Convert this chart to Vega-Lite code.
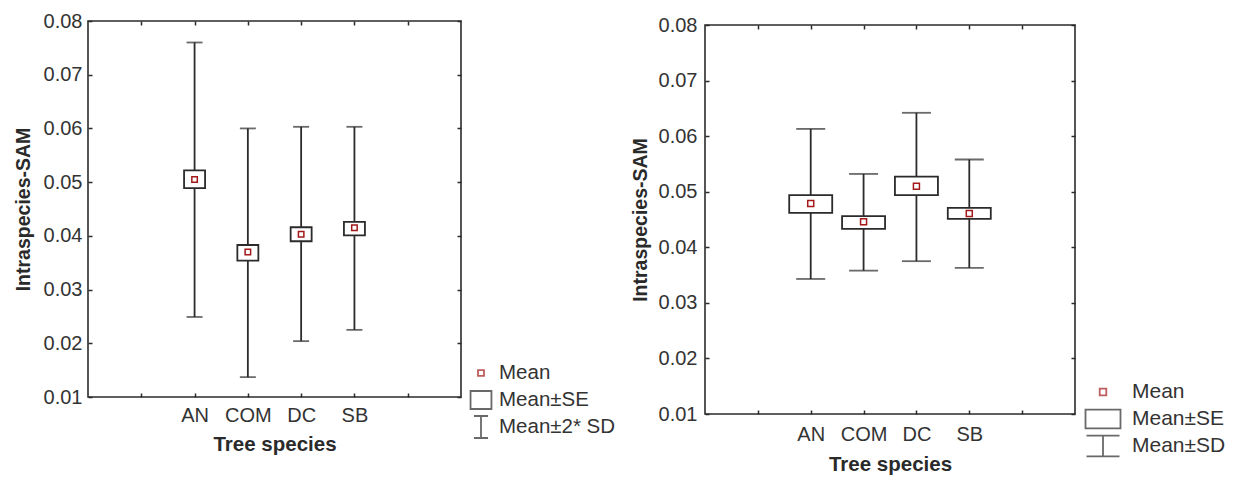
{
  "$schema": "https://vega.github.io/schema/vega-lite/v6.json",
  "padding": {"left": 12, "top": 10, "right": 0, "bottom": 0},
  "background": "white",
  "config": {
    "font": "Liberation Sans",
    "view": {"stroke": "#2b2b2b", "strokeWidth": 1.6},
    "axis": {
      "labelFont": "Liberation Sans", "labelFontSize": 20, "labelColor": "#333333",
      "titleFont": "Liberation Sans", "titleColor": "#2a2a2a", "titleFontWeight": "bold",
      "domain": false, "grid": false, "tickColor": "#2b2b2b", "tickWidth": 1.5, "tickSize": -4
    },
    "legend": {"labelFont": "Liberation Sans", "labelColor": "#333333"}
  },
  "datasets": {
    "left": [
      {"species": "AN", "mean": 0.0505, "seLo": 0.0489, "seHi": 0.0522, "sdLo": 0.0249, "sdHi": 0.0760},
      {"species": "COM", "mean": 0.0370, "seLo": 0.0354, "seHi": 0.0383, "sdLo": 0.0137, "sdHi": 0.0600},
      {"species": "DC", "mean": 0.0403, "seLo": 0.0390, "seHi": 0.0416, "sdLo": 0.0204, "sdHi": 0.0603},
      {"species": "SB", "mean": 0.0415, "seLo": 0.0401, "seHi": 0.0426, "sdLo": 0.0225, "sdHi": 0.0603}
    ],
    "right": [
      {"species": "AN", "mean": 0.0479, "seLo": 0.0462, "seHi": 0.0494, "sdLo": 0.0343, "sdHi": 0.0613},
      {"species": "COM", "mean": 0.0446, "seLo": 0.0433, "seHi": 0.0456, "sdLo": 0.0358, "sdHi": 0.0532},
      {"species": "DC", "mean": 0.0510, "seLo": 0.0494, "seHi": 0.0527, "sdLo": 0.0375, "sdHi": 0.0642},
      {"species": "SB", "mean": 0.0461, "seLo": 0.0451, "seHi": 0.0471, "sdLo": 0.0363, "sdHi": 0.0558}
    ],
    "legendLeft": [{"item": "Mean"}, {"item": "Mean±SE"}, {"item": "Mean±2* SD"}],
    "legendRight": [{"item": "Mean"}, {"item": "Mean±SE"}, {"item": "Mean±SD"}]
  },
  "resolve": {"scale": {"shape": "independent", "stroke": "independent"}},
  "spacing": 12,
  "hconcat": [
    {
      "width": 373, "height": 376,
      "data": {"name": "left"},
      "resolve": {"axis": {"x": "independent", "y": "independent"}},
      "layer": [
        {
          "mark": {"type": "rule", "color": "#2b2b2b", "strokeWidth": 1.8},
          "encoding": {
            "x": {"field": "species", "type": "nominal",
              "scale": {"type": "point", "domain": [" ", "AN", "COM", "DC", "SB", "  "], "padding": 1},
              "axis": {"orient": "bottom", "title": "Tree species", "labelAngle": 0, "labelPadding": 12, "titlePadding": 9, "titleFontSize": 20.5}},
            "y": {"field": "sdLo", "type": "quantitative",
              "scale": {"domain": [0.01, 0.08], "nice": false, "zero": false},
              "axis": {"orient": "left", "title": "Intraspecies-SAM", "values": [0.01, 0.02, 0.03, 0.04, 0.05, 0.06, 0.07, 0.08], "format": ".2f", "labelPadding": 10, "titlePadding": 10, "titleFontSize": 19.5}},
            "y2": {"field": "sdHi"}
          }
        },
        {
          "mark": {"type": "tick", "color": "#2b2b2b", "thickness": 1.8, "size": 16},
          "encoding": {
            "x": {"field": "species", "type": "nominal", "axis": {"orient": "top", "labels": false, "title": null}},
            "y": {"field": "sdLo", "type": "quantitative", "axis": {"orient": "right", "labels": false, "title": null, "values": [0.01, 0.02, 0.03, 0.04, 0.05, 0.06, 0.07, 0.08]}}
          }
        },
        {
          "mark": {"type": "tick", "color": "#2b2b2b", "thickness": 1.8, "size": 16},
          "encoding": {
            "x": {"field": "species", "type": "nominal", "axis": null},
            "y": {"field": "sdHi", "type": "quantitative", "axis": null}
          }
        },
        {
          "mark": {"type": "bar", "fill": "white", "stroke": "#2b2b2b", "strokeWidth": 1.8, "size": 21},
          "encoding": {
            "x": {"field": "species", "type": "nominal", "axis": null},
            "y": {"field": "seLo", "type": "quantitative", "axis": null},
            "y2": {"field": "seHi"}
          }
        },
        {
          "mark": {"type": "point", "shape": "square", "filled": false, "stroke": "#a31919", "strokeWidth": 1.5, "size": 30, "opacity": 1},
          "encoding": {
            "x": {"field": "species", "type": "nominal", "axis": null},
            "y": {"field": "mean", "type": "quantitative", "axis": null}
          }
        },
        {
          "data": {"name": "legendLeft"},
          "transform": [{"filter": "false"}],
          "mark": {"type": "point", "filled": false},
          "encoding": {
            "shape": {"field": "item", "type": "nominal",
              "scale": {"domain": ["Mean", "Mean±SE", "Mean±2* SD"], "range": ["M-1,-1M1,1M-0.27,-0.27L0.27,-0.27L0.27,0.27L-0.27,0.27Z", "M-1,-1M1,1M-0.95,-0.82L0.95,-0.82L0.95,0.82L-0.95,0.82Z", "M-1,-1M1,1M-0.64,-1L0.64,-1M0,-1L0,1M-0.64,1L0.64,1"]},
              "legend": {"title": null, "orient": "none", "legendX": 381, "legendY": 340, "symbolSize": 484, "labelFontSize": 20.5, "labelOffset": 6, "rowPadding": -5, "symbolStrokeWidth": 1.8}},
            "stroke": {"field": "item", "type": "nominal",
              "scale": {"domain": ["Mean", "Mean±SE", "Mean±2* SD"], "range": ["#a31919", "#2b2b2b", "#2b2b2b"]},
              "legend": {"title": null, "orient": "none", "legendX": 381, "legendY": 340, "symbolSize": 484, "labelFontSize": 20.5, "labelOffset": 6, "rowPadding": -5, "symbolStrokeWidth": 1.8}}
          }
        }
      ]
    },
    {
      "spacing": -8,
      "vconcat": [
        {
          "width": 370, "height": 1,
          "view": {"stroke": null},
          "data": {"values": []},
          "mark": {"type": "point"},
          "encoding": {}
        },
        {
          "width": 370, "height": 389,
          "data": {"name": "right"},
          "resolve": {"axis": {"x": "independent", "y": "independent"}},
          "layer": [
            {
              "mark": {"type": "rule", "color": "#2b2b2b", "strokeWidth": 1.8},
              "encoding": {
                "x": {"field": "species", "type": "nominal",
                  "scale": {"type": "point", "domain": [" ", "AN", "COM", "DC", "SB", "  "], "padding": 1},
                  "axis": {"orient": "bottom", "title": "Tree species", "labelAngle": 0, "labelPadding": 14, "titlePadding": 10, "titleFontSize": 20.5}},
                "y": {"field": "sdLo", "type": "quantitative",
                  "scale": {"domain": [0.01, 0.08], "nice": false, "zero": false},
                  "axis": {"orient": "left", "title": "Intraspecies-SAM", "values": [0.01, 0.02, 0.03, 0.04, 0.05, 0.06, 0.07, 0.08], "format": ".2f", "labelPadding": 12, "titlePadding": 8, "titleFontSize": 19.5}},
                "y2": {"field": "sdHi"}
              }
            },
            {
              "mark": {"type": "tick", "color": "#2b2b2b", "thickness": 1.8, "size": 29},
              "encoding": {
                "x": {"field": "species", "type": "nominal", "axis": {"orient": "top", "labels": false, "title": null}},
                "y": {"field": "sdLo", "type": "quantitative", "axis": {"orient": "right", "labels": false, "title": null, "values": [0.01, 0.02, 0.03, 0.04, 0.05, 0.06, 0.07, 0.08]}}
              }
            },
            {
              "mark": {"type": "tick", "color": "#2b2b2b", "thickness": 1.8, "size": 29},
              "encoding": {
                "x": {"field": "species", "type": "nominal", "axis": null},
                "y": {"field": "sdHi", "type": "quantitative", "axis": null}
              }
            },
            {
              "mark": {"type": "bar", "fill": "white", "stroke": "#2b2b2b", "strokeWidth": 1.8, "size": 43},
              "encoding": {
                "x": {"field": "species", "type": "nominal", "axis": null},
                "y": {"field": "seLo", "type": "quantitative", "axis": null},
                "y2": {"field": "seHi"}
              }
            },
            {
              "mark": {"type": "point", "shape": "square", "filled": false, "stroke": "#a31919", "strokeWidth": 1.5, "size": 36, "opacity": 1},
              "encoding": {
                "x": {"field": "species", "type": "nominal", "axis": null},
                "y": {"field": "mean", "type": "quantitative", "axis": null}
              }
            },
            {
              "data": {"name": "legendRight"},
              "transform": [{"filter": "false"}],
              "mark": {"type": "point", "filled": false},
              "encoding": {
                "shape": {"field": "item", "type": "nominal",
                  "scale": {"domain": ["Mean", "Mean±SE", "Mean±SD"], "range": ["M-1.6,-1M1.6,1M-0.3,-0.3L0.3,-0.3L0.3,0.3L-0.3,0.3Z", "M-1.6,-1M1.6,1M-1.59,-0.86L1.59,-0.86L1.59,0.86L-1.59,0.86Z", "M-1.6,-1M1.6,1M-1.5,-0.95L1.5,-0.95M0,-0.95L0,0.95M-1.5,0.95L1.5,0.95"]},
                  "legend": {"title": null, "orient": "none", "legendX": 386, "legendY": 359, "symbolSize": 484, "labelFontSize": 21, "labelOffset": 17, "rowPadding": -4, "symbolStrokeWidth": 1.8}},
                "stroke": {"field": "item", "type": "nominal",
                  "scale": {"domain": ["Mean", "Mean±SE", "Mean±SD"], "range": ["#a31919", "#2b2b2b", "#2b2b2b"]},
                  "legend": {"title": null, "orient": "none", "legendX": 386, "legendY": 359, "symbolSize": 484, "labelFontSize": 21, "labelOffset": 17, "rowPadding": -4, "symbolStrokeWidth": 1.8}}
              }
            }
          ]
        }
      ]
    }
  ]
}
